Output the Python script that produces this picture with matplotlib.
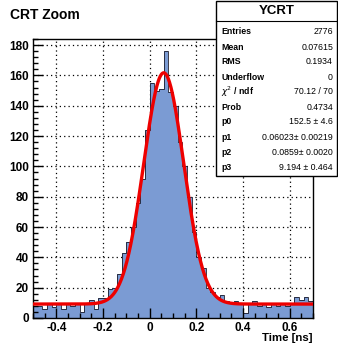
import numpy as np
import matplotlib
matplotlib.use('Agg')
import matplotlib.pyplot as plt
from matplotlib.patches import Rectangle
from matplotlib.ticker import MultipleLocator

plt.rcParams['font.family'] = ['Liberation Sans', 'DejaVu Sans']

# histogram: 60 bins of 0.02 ns from -0.5 to 0.7
edges = np.linspace(-0.5, 0.7, 61)
counts = [8, 8, 6, 9, 7, 10, 6, 9, 8, 10,
          4, 9, 12, 6, 13, 13, 19, 20, 29, 43,
          50, 60, 76, 92, 124, 155, 150, 151, 176, 149,
          140, 116, 100, 80, 57, 40, 33, 20, 17, 14,
          15, 11, 10, 11, 9, 3, 10, 11, 8, 9,
          7, 10, 8, 9, 8, 10, 14, 12, 14, 11]

# fit parameters (gaus + const)
p0, p1, p2, p3 = 152.5, 0.06023, 0.0859, 9.194

stat_labels = ['Entries', 'Mean', 'RMS', 'Underflow', r'$\chi^2$ / ndf', 'Prob',
               'p0', 'p1', 'p2', 'p3']
stat_values = ['2776', '0.07615', '0.1934', '0', '70.12 / 70', '0.4734',
               '152.5 \u00b1 4.6', '0.06023\u00b1 0.00219', '0.0859\u00b1 0.0020',
               '9.194 \u00b1 0.464']

W, H = 338, 345
fig = plt.figure(figsize=(W / 100, H / 100), dpi=100)
ax = fig.add_axes([33 / W, 27 / H, 280 / W, 279 / H])

ax.set_xlim(-0.5, 0.7)
ax.set_ylim(0, 184)

# dotted grid behind the histogram
for gx in np.arange(-0.4, 0.61, 0.2):
    ax.axvline(gx, color='k', lw=0.9, ls=(0, (1, 2.5)), zorder=0.5)
for gy in range(20, 181, 20):
    ax.axhline(gy, color='k', lw=0.9, ls=(0, (1, 2.5)), zorder=0.5)

ax.stairs(counts, edges, fill=True, color='#7b9bd3', zorder=1)
ax.stairs(counts, edges, color='#1a1a2a', lw=0.6, zorder=1.1)

xf = np.linspace(-0.5, 0.7, 600)
yf = p0 * np.exp(-0.5 * ((xf - p1) / p2) ** 2) + p3
ax.plot(xf, yf, color='#ee0000', lw=2.4, zorder=3)

ax.xaxis.set_major_locator(MultipleLocator(0.2))
ax.xaxis.set_minor_locator(MultipleLocator(0.05))
ax.yaxis.set_major_locator(MultipleLocator(20))
ax.yaxis.set_minor_locator(MultipleLocator(4))
ax.tick_params(which='both', direction='in', top=False, right=False, width=1)
ax.tick_params(which='major', length=7, labelsize=8.5, pad=3)
ax.tick_params(which='minor', length=3.5)
ax.set_xticks([-0.4, -0.2, 0, 0.2, 0.4, 0.6])
ax.set_xticklabels(['-0.4', '-0.2', '0', '0.2', '0.4', '0.6'])
for lab in ax.get_xticklabels() + ax.get_yticklabels():
    lab.set_fontweight('bold')
for s in ax.spines.values():
    s.set_linewidth(1.0)

fig.text(313 / W, 1 - 338 / H, 'Time [ns]', ha='right', va='center',
         fontsize=8.2, fontweight='bold')
fig.text(10 / W, 1 - 15 / H, 'CRT Zoom', ha='left', va='center',
         fontsize=10, fontweight='bold')

# stats box
bx0, bx1, by0, by1 = 216, 337, 1, 176
fig.patches.append(Rectangle((bx0 / W, 1 - by1 / H), (bx1 - bx0) / W, (by1 - by0) / H,
                             transform=fig.transFigure, facecolor='white',
                             edgecolor='black', lw=1.0, zorder=5))
fig.add_artist(plt.Line2D([bx0 / W, bx1 / W], [1 - 21 / H, 1 - 21 / H],
                          transform=fig.transFigure, color='black', lw=0.8, zorder=6))
fig.text((bx0 + bx1) / 2 / W, 1 - 11 / H, 'YCRT', ha='center', va='center',
         fontsize=9.5, fontweight='bold', zorder=7)
for i, (lab, val) in enumerate(zip(stat_labels, stat_values)):
    yy = 1 - (32 + 15 * i) / H
    fig.text(221 / W, yy, lab, ha='left', va='center', fontsize=6.3,
             fontweight='bold', zorder=7)
    fig.text(333 / W, yy, val, ha='right', va='center', fontsize=6.3, zorder=7)

fig.savefig('out.png', dpi=100)
